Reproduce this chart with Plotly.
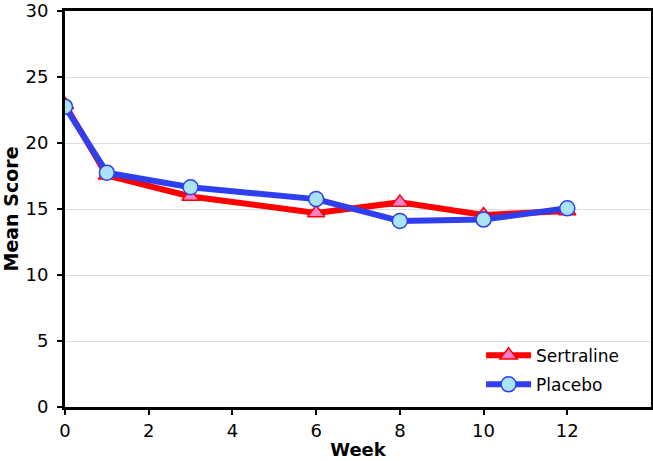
import plotly.graph_objects as go

weeks = [0, 1, 3, 6, 8, 10, 12]
sertraline = [22.9, 17.55, 15.95, 14.7, 15.5, 14.55, 14.85]
placebo = [22.75, 17.75, 16.65, 15.75, 14.1, 14.2, 15.05]
x_ticks = [0, 2, 4, 6, 8, 10, 12]
y_ticks = [0, 5, 10, 15, 20, 25, 30]

fig = go.Figure()
fig.add_trace(go.Scatter(
    x=weeks, y=sertraline, name="Sertraline", mode="lines+markers",
    legendgroup="s",
    line=dict(color="#ff0000", width=6),
    marker=dict(symbol="triangle-up", size=15, color="#ff80c8",
                line=dict(color="#ff0000", width=1.5)),
))
fig.add_trace(go.Scatter(
    x=weeks, y=placebo, name="Placebo", mode="lines+markers",
    legendgroup="p",
    line=dict(color="#2f3ff0", width=6),
    marker=dict(symbol="circle", size=15, color="#a8e4f4",
                line=dict(color="#2f3ff0", width=1.5)),
))

font = "Tahoma, Verdana, DejaVu Sans, sans-serif"
fig.update_layout(
    width=653, height=461,
    margin=dict(l=65, r=2, t=11, b=54),
    paper_bgcolor="white", plot_bgcolor="white",
    font=dict(family=font, size=18, color="black"),
    showlegend=True,
    legend=dict(x=0.71, y=0.175, xanchor="left", yanchor="top",
                bgcolor="rgba(0,0,0,0)", font=dict(size=17),
                itemwidth=45, tracegroupgap=4),
    xaxis=dict(range=[0, 14], tickvals=x_ticks, ticks="outside", ticklen=5,
               tickwidth=1.5, tickcolor="black", showline=True, linecolor="black",
               linewidth=3, mirror=True, showgrid=False, zeroline=False,
               automargin=False, ticklabeloverflow="allow",
               title=dict(text="<b>Week</b>", font=dict(size=18), standoff=4),
               tickfont=dict(size=18)),
    yaxis=dict(range=[0, 30], tickvals=y_ticks, ticks="outside", ticklen=5,
               tickwidth=1.5, tickcolor="black", showline=True, linecolor="black",
               linewidth=3, mirror=True, showgrid=True, gridcolor="#d9dde0",
               gridwidth=1, zeroline=False, automargin=False,
               ticklabeloverflow="allow", ticklabelstandoff=5,
               title=dict(text="<b>Mean Score</b>", font=dict(size=19), standoff=2),
               tickfont=dict(size=18)),
)
fig.write_html(
    "out.html",
    config={"displayModeBar": False},
    post_script="document.body.style.margin='0';document.body.style.overflow='hidden';",
)
